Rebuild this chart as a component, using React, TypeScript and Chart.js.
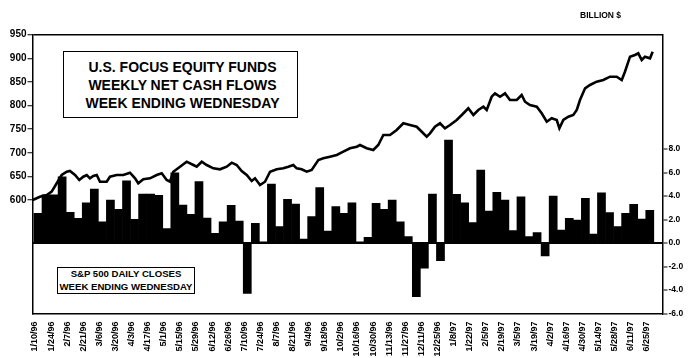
import React, { useEffect, useRef } from 'react';
import { Chart, registerables } from 'chart.js';

Chart.register(...registerables);

// Bi-weekly x-axis labels (week ending Wednesday)
const weekLabels = [
  '1/10/96', '1/24/96', '2/7/96', '2/21/96', '3/6/96', '3/20/96', '4/3/96', '4/17/96',
  '5/1/96', '5/15/96', '5/29/96', '6/12/96', '6/26/96', '7/10/96', '7/24/96', '8/7/96',
  '8/21/96', '9/4/96', '9/18/96', '10/2/96', '10/16/96', '10/30/96', '11/13/96', '11/27/96',
  '12/11/96', '12/25/96', '1/8/97', '1/22/97', '2/5/97', '2/19/97', '3/5/97', '3/19/97',
  '4/2/97', '4/16/97', '4/30/97', '5/14/97', '5/28/97', '6/11/97', '6/25/97',
];

// Weekly net cash flows, billion $ (one per week starting 1/10/96)
const weeklyFlows = [
  2.53, 4.09, 4.09, 5.64, 2.61, 2.1, 3.43, 4.6, 1.81, 3.66,
  2.87, 5.3, 2.02, 4.17, 4.17, 4.05, 1.22, 5.98, 3.23, 2.44,
  5.22, 2.13, 0.83, 1.81, 3.2, 1.87, -4.3, 1.68, 0.1, 5.02,
  1.39, 3.72, 3.32, 0.34, 2.24, 4.71, 1.02, 3.09, 2.53, 3.43,
  0.11, 0.49, 3.38, 2.87, 3.66, 1.81, 0.54, -4.57, -2.15, 4.17,
  -1.51, 8.77, 4.14, 3.43, 1.73, 6.21, 2.72, 4.31, 3.66, 1.05,
  3.94, 0.54, 0.88, -1.1, 4.0, 1.11, 2.1, 1.96, 3.8, 0.77,
  4.28, 2.58, 1.39, 2.53, 3.29, 2.04, 2.78,
];

// S&P 500 closes: days since 1/10/96 and index level
const spDay = [
  -2, 4.3, 10.2, 14.5, 18.9, 23.2, 27.6, 30.4, 34.8, 38.5,
  42.0, 45.0, 47.8, 50.7, 53.7, 56.5, 62.3, 65.2, 71.0, 76.8,
  82.6, 87.0, 89.8, 94.2, 100.0, 105.8, 110.2, 114.5, 117.4, 120.3,
  126.1, 131.9, 137.7, 140.6, 145.0, 149.3, 155.1, 160.9, 166.7, 171.1,
  175.4, 179.7, 184.1, 188.4, 191.3, 195.7, 200.0, 204.4, 210.2, 215.9,
  220.3, 224.6, 227.6, 231.9, 236.3, 240.6, 246.4, 250.7, 256.5, 262.4,
  268.1, 273.9, 279.8, 282.6, 288.4, 294.2, 298.5, 302.9, 308.7, 314.5,
  320.3, 326.1, 331.9, 336.3, 340.6, 343.5, 347.8, 352.2, 356.5, 360.9,
  366.7, 371.1, 376.8, 381.2, 385.5, 389.9, 392.8, 397.1, 400.0, 404.4,
  408.7, 413.0, 418.9, 423.2, 426.1, 430.4, 436.3, 440.6, 445.0, 449.3,
  453.7, 456.0, 459.4, 463.8, 468.1, 471.1, 473.9, 478.3, 482.6, 488.4,
  494.2, 500.0, 505.8, 510.2, 513.0, 517.4, 521.7, 524.6, 527.6, 530.4,
  534.8, 537.1,
];
const spClose = [
  600, 607, 610.6, 617.6, 635.4, 652.9, 659.9, 661.4, 652.9, 642.3,
  649.3, 652.9, 645.9, 650.8, 652.9, 638.7, 638.7, 649.3, 652.9, 652.9,
  657.8, 645.9, 635.4, 643.8, 645.9, 652.9, 656.5, 642.3, 638.7, 659.9,
  670.5, 681.1, 674.1, 670.5, 681.1, 674.1, 667.1, 665.0, 670.5, 679.0,
  674.1, 661.4, 652.9, 640.2, 645.9, 631.8, 638.7, 659.9, 665.0, 667.1,
  670.5, 674.1, 667.1, 665.0, 659.9, 663.5, 684.7, 688.3, 691.7, 695.3,
  702.3, 709.5, 712.9, 716.5, 709.5, 705.9, 716.5, 737.6, 737.6, 748.2,
  762.4, 758.8, 755.2, 744.6, 734.0, 741.2, 755.2, 762.4, 751.8, 758.8,
  769.4, 780.0, 794.2, 780.0, 790.6, 797.5, 790.6, 818.7, 825.9, 818.7,
  825.9, 811.7, 811.7, 822.3, 808.1, 801.1, 797.5, 783.6, 765.8, 773.0,
  769.4, 751.8, 769.4, 776.4, 780.0, 790.6, 811.7, 836.5, 843.5, 850.5,
  854.1, 861.1, 861.1, 854.1, 871.6, 903.4, 907.0, 910.6, 896.4, 903.4,
  900.0, 914.0,
];

const leftTicks = [600, 650, 700, 750, 800, 850, 900, 950];
const rightTicks = [-6, -4, -2, 0, 2, 4, 6, 8];

const FONT = "'Liberation Sans', Arial, sans-serif";

export default function App() {
  const canvasRef = useRef<HTMLCanvasElement | null>(null);

  useEffect(() => {
    const canvas = canvasRef.current;
    if (!canvas) return;
    const chart = new Chart(canvas, {
      type: 'bar',
      data: {
        datasets: [
          {
            type: 'line',
            data: spDay.map((d, i) => ({ x: d / 7, y: spClose[i] })),
            yAxisID: 'y',
            xAxisID: 'x',
            borderColor: '#000',
            borderWidth: 2.6,
            pointRadius: 0,
            tension: 0,
            fill: false,
            order: 0,
          } as any,
          {
            type: 'bar',
            data: weeklyFlows.map((v, i) => ({ x: i + 0.37, y: v })),
            yAxisID: 'y1',
            xAxisID: 'x',
            backgroundColor: '#000',
            borderColor: '#000',
            borderWidth: 0,
            barPercentage: 1,
            categoryPercentage: 1,
            order: 1,
          } as any,
        ],
      },
      options: {
        responsive: false,
        animation: false,
        devicePixelRatio: 1,
        layout: { padding: { top: 34.7, left: 0, right: 0, bottom: 0 } },
        plugins: { legend: { display: false }, tooltip: { enabled: false }, title: { display: false } },
        scales: {
          x: {
            type: 'linear',
            position: 'bottom',
            min: -0.31,
            max: 77.95,
            offset: false,
            afterBuildTicks: (s: any) => {
              s.ticks = weekLabels.map((_, i) => ({ value: i * 2 }));
            },
            afterFit: (s: any) => {
              s.height = 44.5;
            },
            ticks: {
              autoSkip: false,
              maxRotation: 90,
              minRotation: 90,
              padding: 8,
              color: '#000',
              font: { family: FONT, size: 9, weight: 'bold' },
              callback: (v: any) => weekLabels[Math.round(Number(v) / 2)] ?? '',
            },
            grid: { display: false, drawTicks: false, offset: false },
            border: { display: true, color: '#000', width: 1.5 },
          },
          y: {
            type: 'linear',
            position: 'left',
            min: 359.7,
            max: 950,
            afterBuildTicks: (s: any) => {
              s.ticks = leftTicks.map((v) => ({ value: v }));
            },
            afterFit: (s: any) => {
              s.width = 32.5;
            },
            ticks: {
              color: '#000',
              padding: 1,
              font: { family: FONT, size: 10, weight: 'bold' },
            },
            grid: {
              drawOnChartArea: true,
              color: (ctx: any) => (ctx.tick && ctx.tick.value === 950 ? '#000' : 'rgba(0,0,0,0)'),
              lineWidth: 1.5,
              tickLength: 5,
              tickColor: '#000',
              tickWidth: 1,
            },
            border: { display: true, color: '#000', width: 1.5 },
          },
          y1: {
            type: 'linear',
            position: 'right',
            min: -6,
            max: 17.73,
            afterBuildTicks: (s: any) => {
              s.ticks = rightTicks.map((v) => ({ value: v }));
            },
            afterFit: (s: any) => {
              s.width = 26.5;
            },
            ticks: {
              color: '#000',
              padding: 1,
              font: { family: FONT, size: 8.5, weight: 'bold' },
              callback: (v: any) => Number(v).toFixed(1),
            },
            grid: {
              drawOnChartArea: true,
              color: (ctx: any) => (ctx.tick && ctx.tick.value === 0 ? '#000' : 'rgba(0,0,0,0)'),
              lineWidth: 2,
              tickLength: 5,
              tickColor: '#000',
              tickWidth: 1,
            },
            border: { display: true, color: '#000', width: 1.5 },
          },
        },
      } as any,
    });
    return () => chart.destroy();
  }, []);

  const boxText: React.CSSProperties = {
    fontFamily: FONT,
    fontWeight: 'bold',
    color: '#000',
    textAlign: 'center',
    whiteSpace: 'nowrap',
  };

  return (
    <div style={{ position: 'fixed', left: 0, top: 0, width: 689, height: 358, background: '#fff' }}>
      <canvas ref={canvasRef} width={689} height={358} style={{ position: 'absolute', left: 0, top: 0 }} />
      <div
        style={{
          ...boxText,
          position: 'absolute',
          left: 63,
          top: 51,
          width: 235,
          height: 67,
          boxSizing: 'border-box',
          border: '1.5px solid #000',
          background: '#fff',
          fontSize: 14,
          lineHeight: '18px',
          paddingLeft: 4,
          display: 'flex',
          flexDirection: 'column',
          justifyContent: 'center',
        }}
      >
        <div>U.S. FOCUS EQUITY FUNDS</div>
        <div>WEEKLY NET CASH FLOWS</div>
        <div>WEEK ENDING WEDNESDAY</div>
      </div>
      <div
        style={{
          ...boxText,
          position: 'absolute',
          left: 57,
          top: 267,
          width: 138,
          height: 27,
          boxSizing: 'border-box',
          border: '1.5px solid #000',
          background: '#fff',
          fontSize: 9.6,
          lineHeight: '12.5px',
          display: 'flex',
          flexDirection: 'column',
          justifyContent: 'center',
        }}
      >
        <div>S&amp;P 500 DAILY CLOSES</div>
        <div>WEEK ENDING WEDNESDAY</div>
      </div>
      <div
        style={{
          ...boxText,
          position: 'absolute',
          left: 580,
          top: 9,
          fontSize: 8.5,
          lineHeight: '12px',
          textAlign: 'left',
        }}
      >
        BILLION $
      </div>
    </div>
  );
}
